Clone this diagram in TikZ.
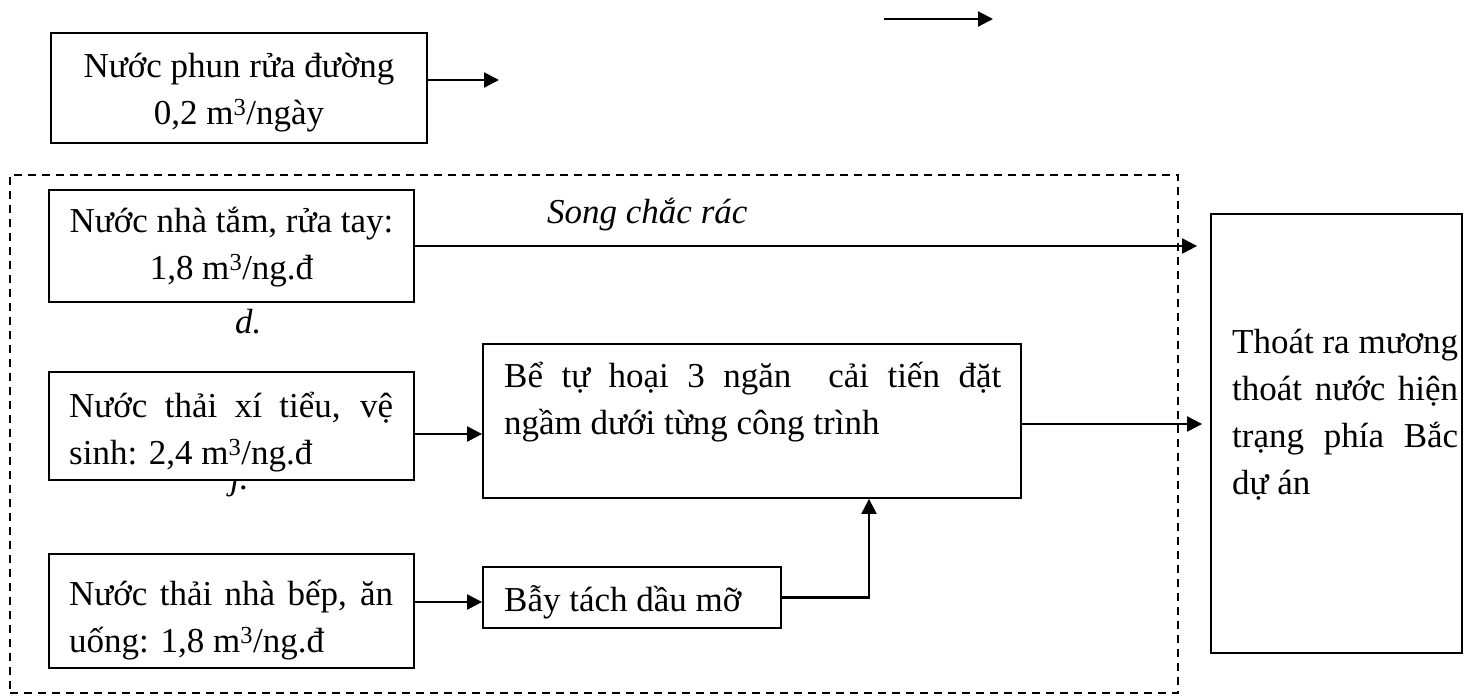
\documentclass[tikz,border=0pt]{standalone}
\usepackage{fontspec}
\setmainfont{Liberation Serif}
\usetikzlibrary{arrows.meta}

\begin{document}
\begin{tikzpicture}[x=1pt, y=-1pt, font=\fontsize{35}{47}\selectfont,
    box/.style = {draw, line width=1.8pt, fill=white, inner sep=0pt},
    txt/.style = {inner sep=0pt},
    par/.style = {anchor=north west, align=justify},
    arr/.style = {line width=2.2pt, -{Triangle[length=15pt, width=15pt]}},
    khung/.style = {draw, dash pattern=on 8pt off 6pt, line width=1.5pt, inner sep=0pt}
    ]
    \useasboundingbox (0,0) rectangle (1464,697);

    % khung net dut
    \node[khung, minimum width=1168, minimum height=518] (khu) at (594,434) {};

    % nuoc phun rua duong
    \node[box, minimum width=376, minimum height=110] (phunrua) at (239,88) {};
    \node[txt, anchor=north, align=center] (tphun) at (239,44) {\strut Nước phun rửa đường\\0,2 m\textsuperscript{3}/ngày};
    \coordinate (phunra) at ([yshift=8pt]phunrua.east);
    \coordinate (phunden) at (499,80);
    \draw[arr] (phunra) -- (phunden);

    % mui ten tren cung
    \coordinate (le1) at (884,19);
    \coordinate (le2) at (993,19);
    \draw[arr] (le1) -- (le2);

    % nha tam
    \node[box, minimum width=365, minimum height=112] (nhatam) at (231.5,246) {};
    \node[txt, anchor=north, align=center] (tnhatam) at (231.5,199.1) {\strut Nước nhà tắm, rửa tay:\\1,8 m\textsuperscript{3}/ng.đ};
    \node[txt, anchor=base west] (song) at (547,223) {\itshape Song chắc rác};
    \node[txt, anchor=base west] (dd) at (235,333) {\itshape d.};
    \node[txt, anchor=base west] (jj) at (230,489) {\itshape j.};

    % xi tieu
    \node[box, minimum width=365, minimum height=108] (xitieu) at (231.5,426) {};
    \node[txt, par, text width=324pt] (txitieu) at (69,384.1) {\strut Nước thải xí tiểu, vệ\linebreak sinh: 2,4 m\textsuperscript{3}/ng.đ};

    % be tu hoai
    \node[box, minimum width=538, minimum height=154] (bientu) at (752,421) {};
    \node[txt, par, text width=497pt] (tbientu) at (504,354.1) {\strut Bể tự hoại 3 ngăn\ \ cải tiến đặt\linebreak ngầm dưới từng công trình};

    % nha bep
    \node[box, minimum width=365, minimum height=114] (nhabep) at (231.5,611) {};
    \node[txt, par, text width=324pt] (tnhabep) at (69,572.1) {\strut Nước thải nhà bếp, ăn\linebreak uống: 1,8 m\textsuperscript{3}/ng.đ};

    % bay tach dau mo
    \node[box, minimum width=298, minimum height=61] (baytach) at (632,597.5) {};
    \node[txt, anchor=base west] (tbaytach) at (504,611) {Bẫy tách dầu mỡ};

    % thoat ra muong
    \node[box, minimum width=251, minimum height=439] (thoatra) at (1336.5,433.5) {};
    \node[txt, par, text width=226pt] (tthoatra) at (1232,320.1) {\strut Thoát ra mương\linebreak thoát nước hiện\linebreak trạng phía Bắc\linebreak dự án};

    % cac mui ten
    \coordinate (bvao) at (nhatam.east -| thoatra.west);
    \draw[arr] (nhatam.east) -- ([xshift=-13pt]bvao);

    \coordinate (cra) at ([yshift=-8pt]xitieu.east);
    \draw[arr] (cra) -- (cra -| bientu.west);

    \coordinate (era) at ([yshift=9pt]nhabep.east);
    \draw[arr] (era) -- (era -| baytach.west);

    \coordinate (gap) at (869,597.5);
    \draw[arr] (baytach.east) -- (gap) -- (gap |- bientu.south);

    \coordinate (dra) at ([yshift=-3pt]bientu.east);
    \coordinate (gvao) at (dra -| thoatra.west);
    \draw[arr] (dra) -- ([xshift=-8pt]gvao);

\end{tikzpicture}
\end{document}
